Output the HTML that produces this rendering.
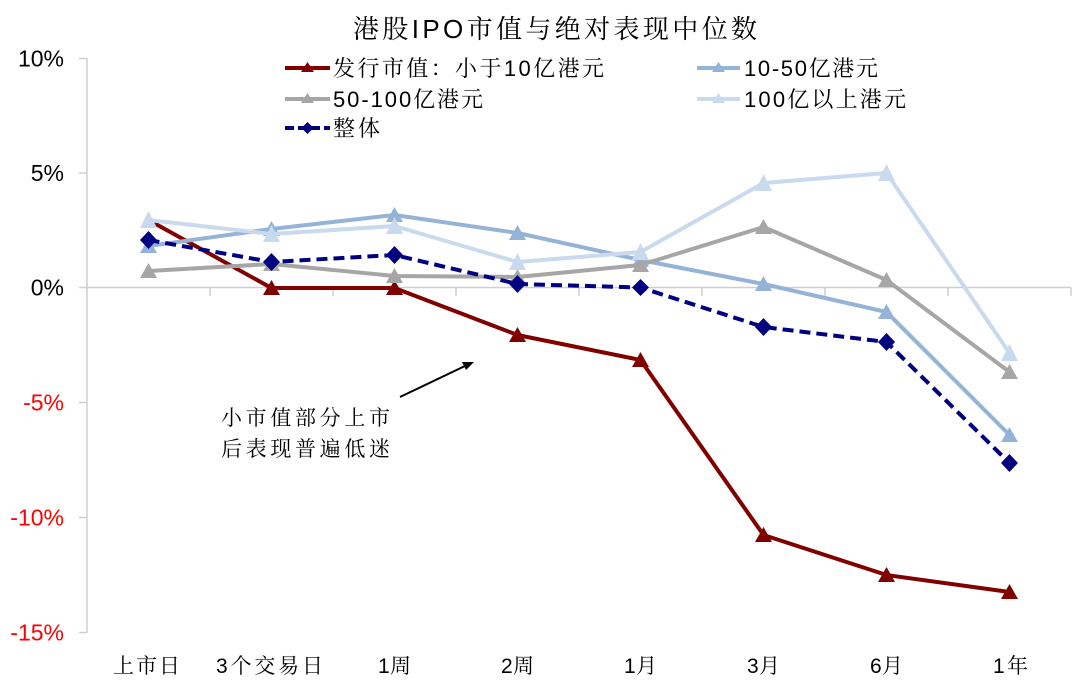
<!DOCTYPE html>
<html>
<head>
<meta charset="utf-8">
<style>
  html, body { margin:0; padding:0; background:#fff; }
  svg { display:block; }
  text { font-family: "Liberation Sans", "Noto Serif CJK SC", serif; }
</style>
</head>
<body>
<svg width="1080" height="688" viewBox="0 0 1080 688" xmlns="http://www.w3.org/2000/svg">
  <rect x="0" y="0" width="1080" height="688" fill="#ffffff"/>

  <!-- Title -->
  <text x="353" y="38" font-size="26" fill="#000" textLength="404" lengthAdjust="spacing">港股IPO市值与绝对表现中位数</text>

  <!-- Y axis -->
  <g stroke="#CFCFCF" stroke-width="1.5" fill="none">
    <line x1="87" y1="58" x2="87" y2="633"/>
    <line x1="79" y1="58.5" x2="87" y2="58.5"/>
    <line x1="79" y1="173" x2="87" y2="173"/>
    <line x1="79" y1="287.5" x2="87" y2="287.5"/>
    <line x1="79" y1="402.5" x2="87" y2="402.5"/>
    <line x1="79" y1="517.5" x2="87" y2="517.5"/>
    <line x1="79" y1="632.5" x2="87" y2="632.5"/>
    <!-- zero line -->
    <line x1="87" y1="287.5" x2="1071" y2="287.5"/>
    <line x1="210" y1="287.5" x2="210" y2="296"/>
    <line x1="333" y1="287.5" x2="333" y2="296"/>
    <line x1="456" y1="287.5" x2="456" y2="296"/>
    <line x1="579" y1="287.5" x2="579" y2="296"/>
    <line x1="702" y1="287.5" x2="702" y2="296"/>
    <line x1="825" y1="287.5" x2="825" y2="296"/>
    <line x1="948" y1="287.5" x2="948" y2="296"/>
    <line x1="1071" y1="287.5" x2="1071" y2="296"/>
  </g>

  <!-- Y tick labels -->
  <g font-size="23" text-anchor="end">
    <text x="64" y="66.5" fill="#000">10%</text>
    <text x="64" y="181" fill="#000">5%</text>
    <text x="64" y="295.5" fill="#000">0%</text>
    <text x="64" y="410.5" fill="#FF0000">-5%</text>
    <text x="64" y="525.5" fill="#FF0000">-10%</text>
    <text x="64" y="640.5" fill="#FF0000">-15%</text>
  </g>

  <!-- X labels -->
  <g font-size="21" fill="#000">
    <text x="113" y="673" textLength="67" lengthAdjust="spacing">上市日</text>
    <text x="216" y="673" textLength="107" lengthAdjust="spacing">3个交易日</text>
    <text x="378" y="673" textLength="33" lengthAdjust="spacing">1周</text>
    <text x="501" y="673" textLength="33" lengthAdjust="spacing">2周</text>
    <text x="624" y="673" textLength="33" lengthAdjust="spacing">1月</text>
    <text x="747" y="673" textLength="33" lengthAdjust="spacing">3月</text>
    <text x="870" y="673" textLength="33" lengthAdjust="spacing">6月</text>
    <text x="993" y="673" textLength="35" lengthAdjust="spacing">1年</text>
  </g>

  <!-- Series: 小于10亿 (dark red) -->
  <polyline fill="none" stroke="#800000" stroke-width="4" stroke-linejoin="round"
    points="148.5,220 271.5,288 394.5,288 517.5,335 640.5,360 763.5,535 886.5,575 1009.5,592"/>
  <g fill="#800000">
    <polygon points="271.5,280 263,295 280,295"/>
    <polygon points="394.5,280 386,295 403,295"/>
    <polygon points="517.5,327 509,342 526,342"/>
    <polygon points="640.5,352 632,367 649,367"/>
    <polygon points="763.5,527 755,542 772,542"/>
    <polygon points="886.5,567 878,582 895,582"/>
    <polygon points="1009.5,584 1001,599 1018,599"/>
  </g>

  <!-- Series: 10-50亿 -->
  <polyline fill="none" stroke="#95B3D7" stroke-width="4" stroke-linejoin="round"
    points="148.5,246 271.5,229 394.5,215 517.5,233 640.5,260 763.5,284 886.5,312 1009.5,435"/>
  <g fill="#95B3D7">
    <polygon points="148.5,238 140,253 157,253"/>
    <polygon points="271.5,221 263,236 280,236"/>
    <polygon points="394.5,207 386,222 403,222"/>
    <polygon points="517.5,225 509,240 526,240"/>
    <polygon points="640.5,252 632,267 649,267"/>
    <polygon points="763.5,276 755,291 772,291"/>
    <polygon points="886.5,304 878,319 895,319"/>
    <polygon points="1009.5,427 1001,442 1018,442"/>
  </g>

  <!-- Series: 50-100亿 (gray) -->
  <polyline fill="none" stroke="#A6A6A6" stroke-width="4" stroke-linejoin="round"
    points="148.5,271 271.5,264 394.5,276 517.5,277 640.5,265 763.5,227 886.5,280 1009.5,372"/>
  <g fill="#A6A6A6">
    <polygon points="148.5,263 140,278 157,278"/>
    <polygon points="271.5,256 263,271 280,271"/>
    <polygon points="394.5,268 386,283 403,283"/>
    <polygon points="517.5,269 509,284 526,284"/>
    <polygon points="640.5,257 632,272 649,272"/>
    <polygon points="763.5,219 755,234 772,234"/>
    <polygon points="886.5,272 878,287 895,287"/>
    <polygon points="1009.5,364 1001,379 1018,379"/>
  </g>

  <!-- Series: 100亿以上 (light) -->
  <polyline fill="none" stroke="#C9DAEF" stroke-width="4" stroke-linejoin="round"
    points="148.5,220 271.5,234 394.5,226 517.5,262 640.5,252 763.5,183 886.5,173 1009.5,353"/>
  <g fill="#C9DAEF">
    <polygon points="148.5,211 140,228 157,228"/>
    <polygon points="271.5,225 263,242 280,242"/>
    <polygon points="394.5,217 386,234 403,234"/>
    <polygon points="517.5,253 509,270 526,270"/>
    <polygon points="640.5,243 632,260 649,260"/>
    <polygon points="763.5,174 755,191 772,191"/>
    <polygon points="886.5,164 878,181 895,181"/>
    <polygon points="1009.5,344 1001,361 1018,361"/>
  </g>

  <!-- Series: 整体 (navy dashed) -->
  <polyline fill="none" stroke="#000080" stroke-width="4" stroke-dasharray="11,6" stroke-linejoin="round"
    points="148.5,240 271.5,262 394.5,255 517.5,284 640.5,287.5 763.5,327 886.5,342 1009.5,463"/>
  <g fill="#000080">
    <polygon points="148.5,231 157,240 148.5,249 140,240"/>
    <polygon points="271.5,253 280,262 271.5,271 263,262"/>
    <polygon points="394.5,246 403,255 394.5,264 386,255"/>
    <polygon points="517.5,275 526,284 517.5,293 509,284"/>
    <polygon points="640.5,279 649,287.5 640.5,296 632,287.5"/>
    <polygon points="763.5,318 772,327 763.5,336 755,327"/>
    <polygon points="886.5,333 895,342 886.5,351 878,342"/>
    <polygon points="1009.5,454 1018,463 1009.5,472 1001,463"/>
  </g>

  <!-- Legend -->
  <g>
    <line x1="285" y1="68" x2="330" y2="68" stroke="#800000" stroke-width="4"/>
    <polygon points="307.5,62 301,72 314,72" fill="#800000"/>
    <text x="333" y="76" font-size="22" fill="#000" textLength="271" lengthAdjust="spacing">发行市值：小于10亿港元</text>

    <line x1="285" y1="99" x2="330" y2="99" stroke="#A6A6A6" stroke-width="4"/>
    <polygon points="307.5,93 301,103 314,103" fill="#A6A6A6"/>
    <text x="333" y="107" font-size="22" fill="#000" textLength="150" lengthAdjust="spacing">50-100亿港元</text>

    <line x1="285" y1="128" x2="330" y2="128" stroke="#000080" stroke-width="4" stroke-dasharray="9,4"/>
    <polygon points="307.5,122 313.5,128 307.5,134 301.5,128" fill="#000080"/>
    <text x="333" y="136" font-size="22" fill="#000" textLength="47" lengthAdjust="spacing">整体</text>

    <line x1="697" y1="68" x2="740" y2="68" stroke="#95B3D7" stroke-width="4"/>
    <polygon points="718.5,62 712,72 725,72" fill="#95B3D7"/>
    <text x="744" y="76" font-size="22" fill="#000" textLength="134" lengthAdjust="spacing">10-50亿港元</text>

    <line x1="697" y1="99" x2="740" y2="99" stroke="#C9DAEF" stroke-width="4"/>
    <polygon points="718.5,93 712,103 725,103" fill="#C9DAEF"/>
    <text x="744" y="107" font-size="22" fill="#000" textLength="162" lengthAdjust="spacing">100亿以上港元</text>
  </g>

  <!-- Annotation -->
  <text x="221" y="425" font-size="21" fill="#000" textLength="169" lengthAdjust="spacing">小市值部分上市</text>
  <text x="221" y="456" font-size="21" fill="#000" textLength="169" lengthAdjust="spacing">后表现普遍低迷</text>
  <line x1="400" y1="397" x2="466" y2="365.5" stroke="#000" stroke-width="2"/>
  <polygon points="474,362 462,362 466,370" fill="#000"/>
</svg>
</body>
</html>
